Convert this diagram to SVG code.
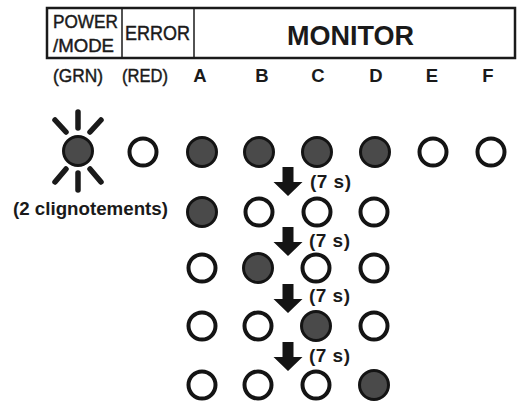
<svg xmlns="http://www.w3.org/2000/svg" width="517" height="406" viewBox="0 0 517 406">
<style>
.t{font-family:"Liberation Sans",Arial,sans-serif;fill:#1a1a1a}
.r{font-weight:normal;stroke:#1a1a1a;stroke-width:0.45}
.b{font-weight:bold}
.on{fill:#4a4a4a;stroke:#141414;stroke-width:3}
.off{fill:#fff;stroke:#141414;stroke-width:4}
.ray{stroke:#1a1a1a;stroke-width:5.5;stroke-linecap:round}
.arr{fill:#141414}
</style>
<defs>
<path id="arrow" d="M-5.5,0 H5.5 V15 H14.5 L0,29 L-14.5,15 H-5.5 Z"/>
</defs>
<rect width="517" height="406" fill="#fff"/>
<g id="header">
<rect x="47" y="8" width="468" height="50" fill="#fff" stroke="#1a1a1a" stroke-width="2.5"/>
<line x1="122" y1="8" x2="122" y2="58" stroke="#1a1a1a" stroke-width="1.5"/>
<line x1="194" y1="8" x2="194" y2="58" stroke="#1a1a1a" stroke-width="1.5"/>
<text class="t r" x="53" y="28" font-size="18.5" textLength="65" lengthAdjust="spacingAndGlyphs">POWER</text>
<text class="t r" x="53" y="52" font-size="18.5" textLength="61" lengthAdjust="spacingAndGlyphs">/MODE</text>
<text class="t r" x="125" y="40" font-size="20" textLength="65" lengthAdjust="spacingAndGlyphs">ERROR</text>
<text class="t b" x="350.5" y="45" font-size="27" text-anchor="middle">MONITOR</text>
</g>
<g id="col-labels">
<text class="t r" x="53" y="82" font-size="19" textLength="50" lengthAdjust="spacingAndGlyphs">(GRN)</text>
<text class="t r" x="122" y="82" font-size="19" textLength="46" lengthAdjust="spacingAndGlyphs">(RED)</text>
<text class="t b" x="200" y="82" font-size="18.5" text-anchor="middle">A</text>
<text class="t b" x="262" y="82" font-size="18.5" text-anchor="middle">B</text>
<text class="t b" x="318" y="82" font-size="18.5" text-anchor="middle">C</text>
<text class="t b" x="376" y="82" font-size="18.5" text-anchor="middle">D</text>
<text class="t b" x="432" y="82" font-size="18.5" text-anchor="middle">E</text>
<text class="t b" x="488" y="82" font-size="18.5" text-anchor="middle">F</text>
</g>
<g id="power-led">
<line class="ray" x1="78" y1="112" x2="78" y2="128"/>
<line class="ray" x1="78" y1="173" x2="78" y2="190"/>
<line class="ray" x1="55" y1="120" x2="66" y2="132"/>
<line class="ray" x1="101" y1="120" x2="90" y2="132"/>
<line class="ray" x1="55" y1="182" x2="66" y2="169"/>
<line class="ray" x1="101" y1="182" x2="90" y2="169"/>
<circle class="on" cx="78" cy="151" r="14.5"/>
</g>
<g id="row1">
<circle class="off" cx="143" cy="152" r="13.5"/>
<circle class="on" cx="202" cy="152" r="14.5"/>
<circle class="on" cx="259" cy="152" r="14.5"/>
<circle class="on" cx="317" cy="152" r="14.5"/>
<circle class="on" cx="375" cy="152" r="14.5"/>
<circle class="off" cx="433" cy="152" r="13.5"/>
<circle class="off" cx="491" cy="152" r="13.5"/>
</g>
<g id="row2">
<text class="t b" x="13" y="215" font-size="19" textLength="155" lengthAdjust="spacingAndGlyphs">(2 clignotements)</text>
<circle class="on" cx="202" cy="212" r="14.5"/>
<circle class="off" cx="259" cy="212" r="13.5"/>
<circle class="off" cx="317" cy="212" r="13.5"/>
<circle class="off" cx="374" cy="212" r="13.5"/>
</g>
<g id="row3">
<circle class="off" cx="202" cy="268" r="13.5"/>
<circle class="on" cx="258" cy="268" r="14.5"/>
<circle class="off" cx="316" cy="268" r="13.5"/>
<circle class="off" cx="374" cy="268" r="13.5"/>
</g>
<g id="row4">
<circle class="off" cx="202" cy="326" r="13.5"/>
<circle class="off" cx="258" cy="326" r="13.5"/>
<circle class="on" cx="316" cy="326" r="14.5"/>
<circle class="off" cx="374" cy="326" r="13.5"/>
</g>
<g id="row5">
<circle class="off" cx="202" cy="385" r="13.5"/>
<circle class="off" cx="258" cy="385" r="13.5"/>
<circle class="off" cx="316" cy="385" r="13.5"/>
<circle class="on" cx="374" cy="385" r="14.5"/>
</g>
<g id="connectors">
<use href="#arrow" class="arr" x="288" y="167"/>
<use href="#arrow" class="arr" x="288" y="227"/>
<use href="#arrow" class="arr" x="288" y="284"/>
<use href="#arrow" class="arr" x="288" y="342"/>
<text class="t b" x="310" y="188" font-size="19" textLength="41" lengthAdjust="spacing">(7 s)</text>
<text class="t b" x="309" y="247" font-size="19" textLength="41" lengthAdjust="spacing">(7 s)</text>
<text class="t b" x="309" y="302" font-size="19" textLength="41" lengthAdjust="spacing">(7 s)</text>
<text class="t b" x="309" y="362" font-size="19" textLength="41" lengthAdjust="spacing">(7 s)</text>
</g>
</svg>
